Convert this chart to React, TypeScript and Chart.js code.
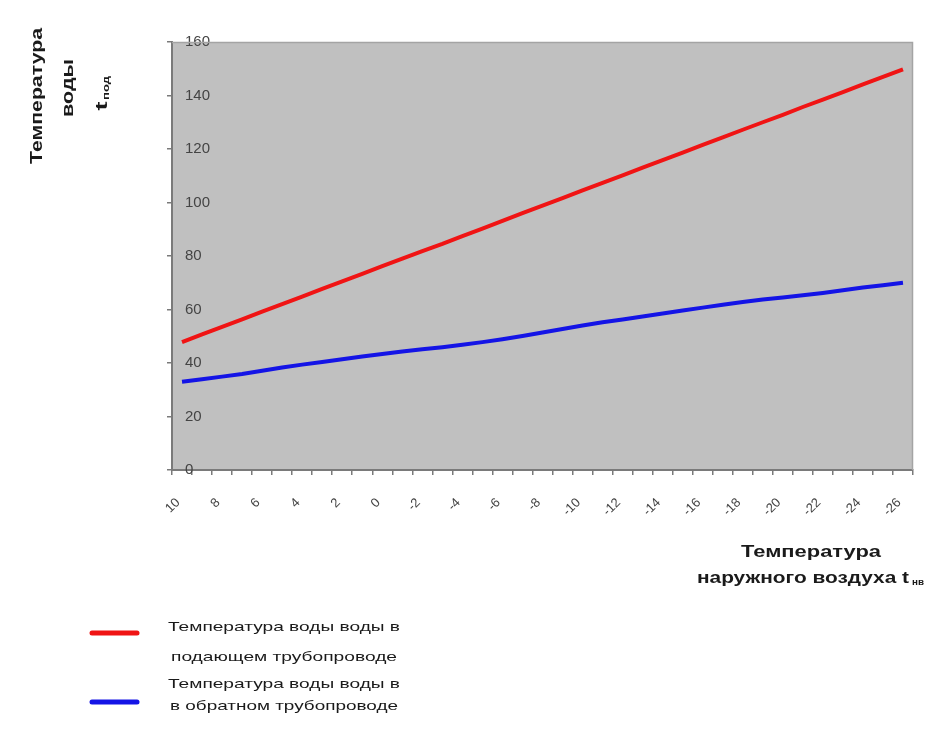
import React, { useEffect, useRef } from "react";
import { Chart, registerables } from "chart.js";

Chart.register(...registerables);

// Outdoor air temperature, °C (one category per degree)
const outdoorTemps: string[] = [
  "10", "9", "8", "7", "6", "5", "4", "3", "2", "1", "0",
  "-1", "-2", "-3", "-4", "-5", "-6", "-7", "-8", "-9", "-10",
  "-11", "-12", "-13", "-14", "-15", "-16", "-17", "-18", "-19", "-20",
  "-21", "-22", "-23", "-24", "-25", "-26",
];

// Supply pipeline water temperature, °C
const supplyTemps: number[] = [
  47.8, 50.7, 53.5, 56.3, 59.2, 62.0, 64.8, 67.7, 70.5, 73.3, 76.2, 79.0,
  81.8, 84.5, 87.4, 90.2, 93.1, 96.0, 98.8, 101.6, 104.5, 107.3, 110.1, 113.0,
  115.8, 118.6, 121.5, 124.3, 127.2, 130.0, 132.8, 135.7, 138.5, 141.3, 144.2,
  147.0, 149.8,
];

// Return pipeline water temperature, °C
const returnTemps: number[] = [
  33, 33.9, 34.9, 35.9, 37.1, 38.3, 39.4, 40.4, 41.4, 42.4, 43.4, 44.3, 45.1,
  45.9, 46.8, 47.8, 48.9, 50.1, 51.4, 52.7, 54.0, 55.2, 56.3, 57.4, 58.5, 59.6,
  60.7, 61.8, 62.8, 63.7, 64.5, 65.3, 66.2, 67.2, 68.2, 69.1, 70,
];

const yTicks = { min: 0, max: 160, step: 20 };

const supplyLabel = ["Температура воды воды в", "подающем трубопроводе"];
const returnLabel = ["Температура воды воды в", "в обратном трубопроводе"];

const FONT = "'Liberation Sans', Arial, sans-serif";

// Draws a single line of text centred at (cx, cy), squeezed or stretched
// horizontally so that it occupies the given width.
function fitText(
  ctx: CanvasRenderingContext2D,
  text: string,
  cx: number,
  cy: number,
  width: number,
  font: string,
  color: string,
  rotate = 0
) {
  ctx.save();
  ctx.font = font;
  ctx.fillStyle = color;
  ctx.textAlign = "center";
  ctx.textBaseline = "middle";
  const w = ctx.measureText(text).width || 1;
  ctx.translate(cx, cy);
  if (rotate) ctx.rotate(rotate);
  ctx.scale(width / w, 1);
  ctx.fillText(text, 0, 0);
  ctx.restore();
}

const decorPlugin = {
  id: "decor",
  beforeDatasetsDraw(chart: any) {
    const { ctx, chartArea: a } = chart;
    ctx.save();
    // plot-area frame: top and right edges
    ctx.strokeStyle = "#a4a4a4";
    ctx.lineWidth = 1.5;
    ctx.beginPath();
    ctx.moveTo(a.left, a.top + 0.5);
    ctx.lineTo(a.right - 0.5, a.top + 0.5);
    ctx.lineTo(a.right - 0.5, a.bottom);
    ctx.stroke();
    ctx.restore();
  },
  beforeDraw(chart: any) {
    const { ctx, chartArea: a } = chart;
    ctx.save();
    ctx.fillStyle = "#ffffff";
    ctx.fillRect(0, 0, chart.width, chart.height);
    ctx.fillStyle = "#c0c0c0";
    ctx.fillRect(a.left, a.top, a.right - a.left, a.bottom - a.top);
    ctx.restore();
  },
  afterDraw(chart: any) {
    const { ctx } = chart;
    const bold = (s: number) => `bold ${s}px ${FONT}`;
    const reg = (s: number) => `${s}px ${FONT}`;
    const ink = "#1a1a1a";
    const up = -Math.PI / 2;

    // vertical axis title
    fitText(ctx, "Температура", 38, 96, 136, bold(16), ink, up);
    fitText(ctx, "воды", 69, 88, 58, bold(16), ink, up);
    fitText(ctx, "t", 103, 106, 9, bold(16), ink, up);
    fitText(ctx, "под", 107, 88, 24, bold(9), ink, up);

    // horizontal axis title
    fitText(ctx, "Температура", 811, 553, 140, bold(16), ink);
    fitText(ctx, "наружного воздуха t", 803, 579, 212, bold(16), ink);
    fitText(ctx, "нв", 918, 583, 12, bold(9), ink);

    // legend
    ctx.save();
    ctx.lineCap = "round";
    ctx.lineWidth = 5;
    ctx.strokeStyle = "#f01414";
    ctx.beginPath();
    ctx.moveTo(92, 633);
    ctx.lineTo(137, 633);
    ctx.stroke();
    ctx.strokeStyle = "#1414e6";
    ctx.beginPath();
    ctx.moveTo(92, 702);
    ctx.lineTo(137, 702);
    ctx.stroke();
    ctx.restore();

    fitText(ctx, supplyLabel[0], 284, 627, 232, reg(13), ink);
    fitText(ctx, supplyLabel[1], 284, 657, 226, reg(13), ink);
    fitText(ctx, returnLabel[0], 284, 684, 232, reg(13), ink);
    fitText(ctx, returnLabel[1], 284, 706, 228, reg(13), ink);
  },
};

export default function App() {
  const canvasRef = useRef<HTMLCanvasElement | null>(null);

  useEffect(() => {
    document.body.style.margin = "0";
    const canvas = canvasRef.current;
    if (!canvas) return;

    const chart = new Chart(canvas, {
      type: "line",
      data: {
        labels: outdoorTemps,
        datasets: [
          {
            label: supplyLabel.join(" "),
            data: supplyTemps,
            borderColor: "#f01414",
            borderWidth: 4,
            pointRadius: 0,
            tension: 0,
            fill: false,
          },
          {
            label: returnLabel.join(" "),
            data: returnTemps,
            borderColor: "#1414e6",
            borderWidth: 4,
            pointRadius: 0,
            tension: 0,
            fill: false,
          },
        ],
      },
      options: {
        responsive: false,
        animation: false,
        devicePixelRatio: 1,
        layout: { padding: { left: 162, top: 42, right: 14, bottom: 210 } },
        plugins: {
          legend: { display: false },
          tooltip: { enabled: false },
          title: { display: false },
        },
        scales: {
          x: {
            type: "category",
            offset: true,
            afterFit: (scale: any) => {
              scale.height = 60;
              scale.paddingLeft = 0;
              scale.paddingRight = 0;
            },
            border: { display: true, color: "#7a7a7a", width: 2 },
            grid: {
              display: true,
              offset: true,
              drawOnChartArea: false,
              drawTicks: true,
              tickLength: 5,
              color: "#7a7a7a",
              lineWidth: 1.5,
            },
            ticks: {
              autoSkip: false,
              minRotation: 45,
              maxRotation: 45,
              padding: 20,
              labelOffset: -4,
              color: "#444444",
              font: { family: FONT, size: 13 },
              callback: (_v: any, i: number) =>
                i % 2 === 0 ? outdoorTemps[i] : "",
            },
          },
          y: {
            min: yTicks.min,
            max: yTicks.max,
            afterFit: (scale: any) => {
              scale.width = 10;
            },
            border: { display: true, color: "#7a7a7a", width: 2 },
            grid: {
              display: true,
              drawOnChartArea: false,
              drawTicks: true,
              tickLength: 5,
              color: "#7a7a7a",
              lineWidth: 1.5,
            },
            ticks: {
              stepSize: yTicks.step,
              mirror: true,
              padding: 13,
              color: "#444444",
              font: { family: FONT, size: 15 },
            },
          },
        },
      },
      plugins: [decorPlugin],
    } as any);

    return () => chart.destroy();
  }, []);

  return (
    <div style={{ width: 927, height: 740 }}>
      <canvas ref={canvasRef} width={927} height={740} />
    </div>
  );
}
